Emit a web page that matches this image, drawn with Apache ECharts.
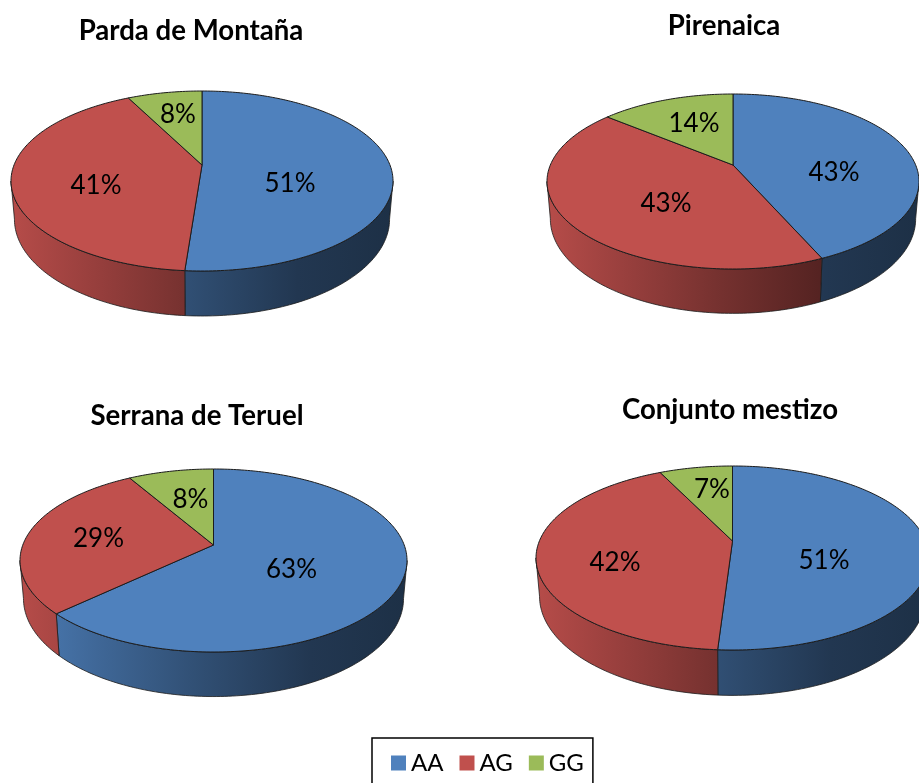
<!DOCTYPE html>
<html>
<head>
<meta charset="utf-8">
<style>html,body{margin:0;padding:0;background:#fff;overflow:hidden}#c{width:919px;height:783px}</style>
<script src="https://cdn.jsdelivr.net/npm/echarts@6/dist/echarts.min.js"></script>
</head>
<body>
<div id="c"></div>
<script>
// Data
const breeds = ['Parda de Montaña', 'Pirenaica', 'Serrana de Teruel', 'Conjunto mestizo'];
const genotypes = ['AA', 'AG', 'GG'];
const AA = [51.2, 43.4, 63, 51];
const AG = [41.3, 42.6, 28.6, 41.8];
const GG = [7.5, 14, 8.4, 7.2];
const baseColors = ['#4F81BD', '#C0504D', '#9BBB59'];

// Layout of each perspective pie (apex position, rim reach above/below apex, half width, wall depth)
const pieLayout = [
  {cx: 202, cy: 165, up: 74, down: 106, rx: 191, depth: 37},
  {cx: 733, cy: 165, up: 71, down: 104, rx: 186, depth: 36},
  {cx: 213.5, cy: 545, up: 76, down: 107, rx: 193.5, depth: 37},
  {cx: 732.5, cy: 541, up: 75, down: 109, rx: 196.5, depth: 37}
];
const titleLayout = [[191, 17.5], [724, 12.5], [197, 402.5], [730, 396.5]];
// label centres relative to the pie apex, per genotype
const labelOffset = [
  [[88, 18.5], [-106, 20.5], [-24, -50.5]],
  [[101, 7.5], [-67, 38.5], [-39, -41.5]],
  [[78, 24.5], [-115, -6.5], [-23, -45.5]],
  [[91.5, 19.5], [-117.5, 21.5], [-20.5, -51.5]]
];

const series = [AA, AG, GG];
const shadeStops = [[0, .95], [.2, .8], [.45, .62], [.75, .43], [1, .37]];
const rimShrink = 0.982;

function shade(hex, f) {
  const n = parseInt(hex.slice(1), 16);
  return 'rgb(' + [n >> 16, (n >> 8) & 255, n & 255].map(c => Math.round(c * f)).join(',') + ')';
}
function tilt(p) { return (p.down - p.up) / (p.down + p.up); }
function projector(p) {
  const k = tilt(p);
  const rt = p.down * (1 - k);
  const r = p.rx * Math.sqrt(1 - k * k);
  return function (theta) {
    const u = Math.sin(theta), v = -Math.cos(theta), w = 1 - k * v;
    const x = r * u / w, y = rt * v / w;
    return {
      top: [p.cx + x, p.cy + y],
      low: [p.cx + x * rimShrink, p.cy + y + p.depth / w]
    };
  };
}
function arc(project, a, b, key) {
  const n = Math.max(2, Math.ceil((b - a) / (Math.PI / 180)));
  const pts = [];
  for (let i = 0; i <= n; i++) pts.push(project(a + (b - a) * i / n)[key]);
  return pts;
}
function renderSlice(s) {
  return function (params, api) {
    const i = params.dataIndex;
    const p = pieLayout[i];
    const total = AA[i] + AG[i] + GG[i];
    let before = 0;
    for (let j = 0; j < s; j++) before += series[j][i];
    const a = before / total * 2 * Math.PI;
    const b = (before + api.value(0)) / total * 2 * Math.PI;
    const project = projector(p);
    const topArc = arc(project, a, b, 'top');
    const edge = '#1c1c1c';
    const children = [];
    // the wall only shows between the two silhouette angles of the rim
    const sideR = Math.acos(-tilt(p));
    const sideL = 2 * Math.PI - sideR;
    const wa = Math.max(a, sideR), wb = Math.min(b, sideL);
    if (wb > wa) {
      const fill = new echarts.graphic.LinearGradient(p.cx - p.rx, 0, p.cx + p.rx, 0,
        shadeStops.map(t => ({offset: t[0], color: shade(baseColors[s], t[1])})), true);
      children.push({type: 'polygon', z2: 1,
        shape: {points: arc(project, wa, wb, 'top').concat(arc(project, wa, wb, 'low').reverse())},
        style: {fill: fill, stroke: edge, lineWidth: .8}});
    }
    children.push(
      {type: 'polygon', z2: 2, shape: {points: [[p.cx, p.cy]].concat(topArc)},
       style: {fill: baseColors[s], stroke: edge, lineWidth: 1}},
      {type: 'text', z2: 3, style: {
        x: p.cx + labelOffset[i][s][0], y: p.cy + labelOffset[i][s][1],
        text: Math.round(api.value(0)) + '%', fill: '#000',
        font: '26px Lato', align: 'center', verticalAlign: 'middle'}}
    );
    return {type: 'group', children: children};
  };
}

const chart = echarts.init(document.getElementById('c'), null, {renderer: 'canvas'});
chart.setOption({
  animation: false,
  backgroundColor: '#fff',
  title: breeds.map((t, i) => ({
    text: t, left: titleLayout[i][0], top: titleLayout[i][1], textAlign: 'center', padding: 0,
    textStyle: {fontFamily: 'Lato', fontWeight: 'bold', fontSize: 27.6, color: '#000'}
  })),
  legend: {
    data: genotypes, left: 372, top: 738, orient: 'horizontal', icon: 'rect',
    itemWidth: 15, itemHeight: 15, itemGap: 16, selectedMode: false,
    padding: [13, 9, 21, 19], borderColor: '#000', borderWidth: 1.5,
    textStyle: {fontFamily: 'Lato', fontSize: 24, color: '#000', padding: [0, 0, 0, 0]}
  },
  series: genotypes.map((g, s) => ({
    type: 'custom', name: g, coordinateSystem: 'none',
    itemStyle: {color: baseColors[s]},
    data: series[s].map(v => [v]),
    renderItem: renderSlice(s),
    silent: true
  }))
});
</script>
</body>
</html>
